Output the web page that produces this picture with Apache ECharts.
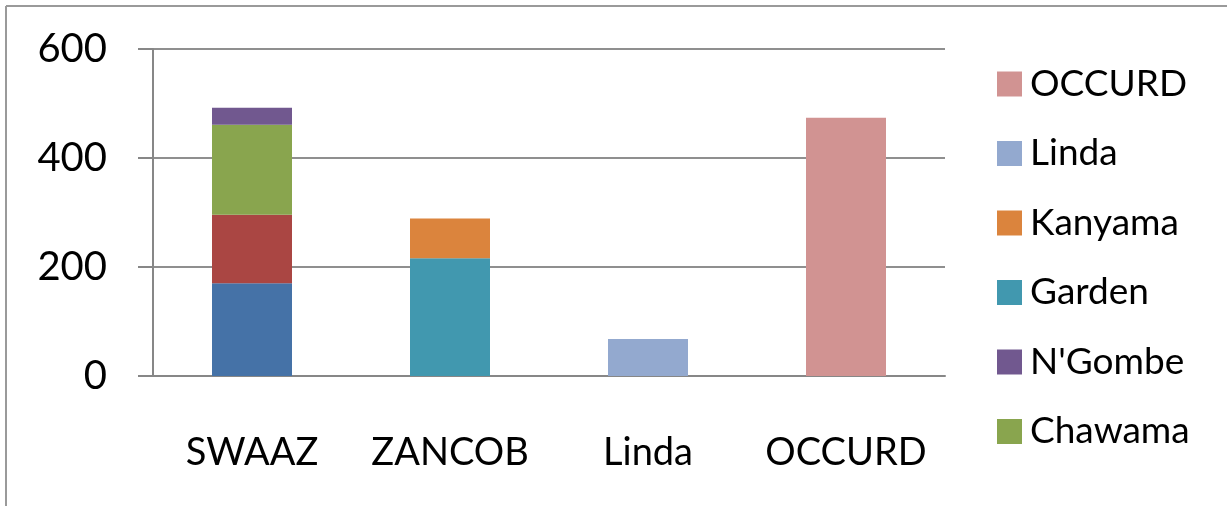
<!DOCTYPE html>
<html>
<head>
<meta charset="utf-8">
<script src="https://cdn.jsdelivr.net/npm/echarts@6/dist/echarts.min.js"></script>
<style>
html,body{margin:0;padding:0;background:#fff;}
#chart{width:1227px;height:506px;}
</style>
</head>
<body>
<div id="chart"></div>
<script>
const categories = ['SWAAZ', 'ZANCOB', 'Linda', 'OCCURD'];
const yTicks = [0, 200, 400, 600];
const seriesNames = ['Kalingalinga', 'Mtendere', 'Chawama', "N'Gombe", 'Garden', 'Kanyama', 'Linda', 'OCCURD'];
const kalingalinga = [170, null, null, null];
const mtendere = [126, null, null, null];
const chawama = [165, null, null, null];
const ngombe = [31, null, null, null];
const garden = [null, 216, null, null];
const kanyama = [null, 73, null, null];
const linda = [null, null, 68, null];
const occurd = [null, null, null, 474];
const legendShown = ['OCCURD', 'Linda', 'Kanyama', 'Garden', "N'Gombe", 'Chawama'];
const colors = ['#4572A7', '#AA4643', '#89A54E', '#71588F', '#4198AF', '#DB843D', '#93A9CF', '#D19392'];

const allData = [kalingalinga, mtendere, chawama, ngombe, garden, kanyama, linda, occurd];
const FONT = 'Lato';

const chart = echarts.init(document.getElementById('chart'));
chart.setOption({
  animation: false,
  color: colors,
  graphic: [
    { type: 'line', shape: { x1: 6, y1: 6, x2: 1227, y2: 6 }, style: { stroke: '#9a9a9a', lineWidth: 2 } },
    { type: 'line', shape: { x1: 6, y1: 6, x2: 6, y2: 506 }, style: { stroke: '#9a9a9a', lineWidth: 2 } }
  ],
  grid: { left: 153, right: 282, top: 49, bottom: 130, containLabel: false },
  legend: {
    data: legendShown,
    orient: 'vertical',
    left: 992,
    top: 57,
    itemWidth: 25,
    itemHeight: 25,
    itemGap: 25.5,
    icon: 'rect',
    textStyle: { fontFamily: FONT, fontSize: 37, color: '#000', lineHeight: 44, padding: [0, 0, 0, 3] }
  },
  xAxis: {
    type: 'category',
    data: categories,
    axisLine: { lineStyle: { color: '#878787', width: 2 } },
    axisTick: { length: 16, lineStyle: { color: '#878787', width: 2 } },
    axisLabel: { fontFamily: FONT, fontSize: 38, color: '#000', margin: 58, interval: 0, hideOverlap: false }
  },
  yAxis: {
    type: 'value',
    min: 0, max: 600, interval: 200,
    axisLine: { show: true, lineStyle: { color: '#878787', width: 2 } },
    axisTick: { show: true, length: 15, lineStyle: { color: '#878787', width: 2 } },
    axisLabel: { fontFamily: FONT, fontSize: 40, color: '#000', margin: 46,
      formatter: v => yTicks.includes(v) ? String(v) : '' },
    splitLine: { lineStyle: { color: '#8f8f8f', width: 2 } }
  },
  series: seriesNames.map((n, i) => ({
    name: n,
    type: 'bar',
    stack: 'total',
    barWidth: 80,
    data: allData[i],
    itemStyle: { color: colors[i] }
  }))
});
</script>
</body>
</html>
